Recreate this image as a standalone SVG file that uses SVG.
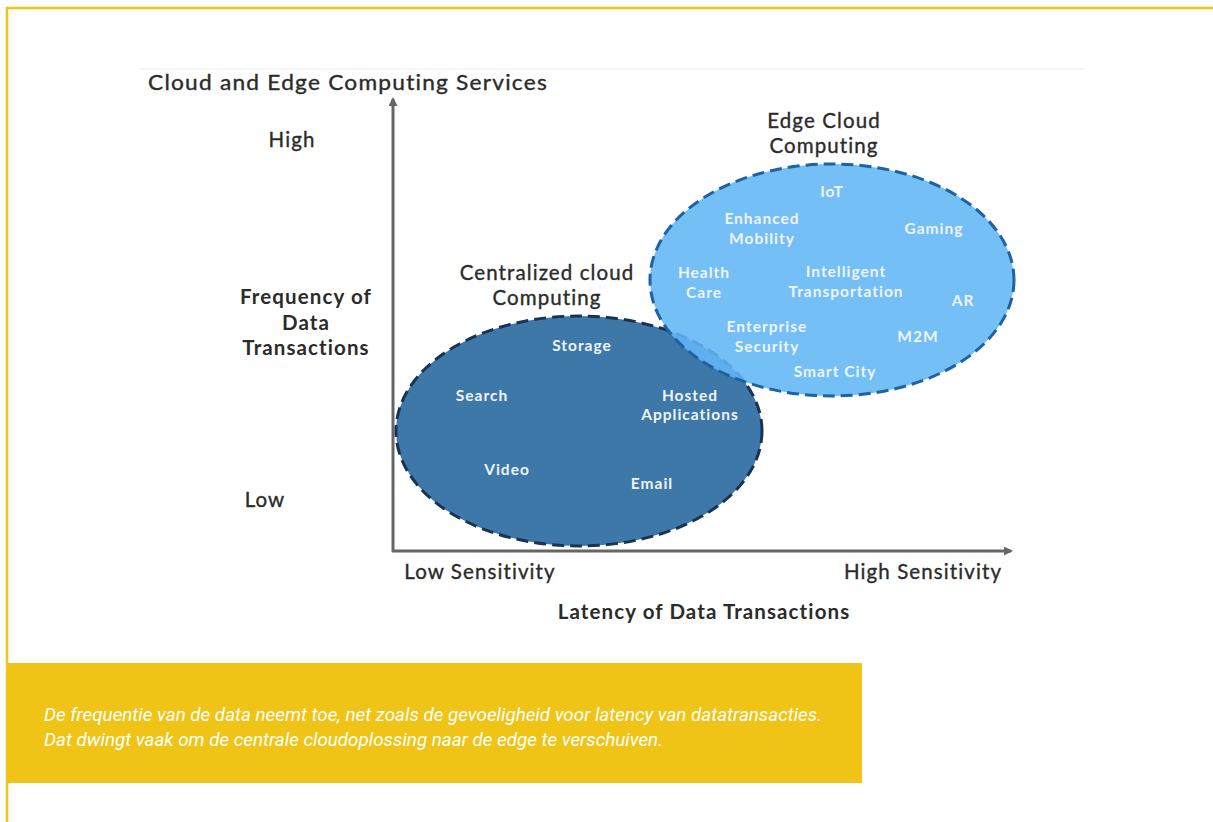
<svg xmlns="http://www.w3.org/2000/svg" width="1213" height="822" viewBox="0 0 1213 822">
<style>
.ax{stroke:#666;stroke-width:3;fill:none}
.lbl{font-family:Lato,"Open Sans","Liberation Sans",sans-serif;fill:#2b2b2b;stroke:#2b2b2b;stroke-width:0.35px;font-size:20.5px;letter-spacing:1.1px}
.b{font-weight:bold;stroke-width:0}
.in{font-family:Lato,"Open Sans","Liberation Sans",sans-serif;fill:#eef4fa;font-size:15.5px;font-weight:bold;letter-spacing:1px;text-anchor:middle}
.cap{font-family:Roboto,"Liberation Sans",sans-serif;font-style:italic;fill:#ffffff;font-size:17.5px}
</style>
<defs>
<marker id="ah" markerWidth="9" markerHeight="9" refX="7" refY="4.5" orient="auto" markerUnits="userSpaceOnUse" viewBox="0 0 9 9">
<path d="M0,0 L9,4.5 L0,9 Z" fill="#666"/>
</marker>
</defs>
<rect x="0" y="0" width="1213" height="822" fill="#ffffff"/>
<path d="M7,822 V8 H1213" stroke="#f2c318" stroke-width="2.5" fill="none"/>
<line x1="140" y1="69" x2="1085" y2="69" stroke="#f3f3f3" stroke-width="1.5"/>
<text class="lbl" x="148" y="90" font-size="22" letter-spacing="0" textLength="400" lengthAdjust="spacingAndGlyphs">Cloud and Edge Computing Services</text>
<g id="axes">
<line class="ax" x1="393" y1="552" x2="393" y2="99" marker-end="url(#ah)"/>
<line class="ax" x1="392" y1="551" x2="1011" y2="551" marker-end="url(#ah)"/>
</g>
<g id="ylabels">
<text class="lbl" x="292" y="147" text-anchor="middle">High</text>
<text class="lbl b" x="306" y="304" text-anchor="middle">Frequency of</text>
<text class="lbl b" x="306" y="330" text-anchor="middle">Data</text>
<text class="lbl b" x="306" y="355" text-anchor="middle">Transactions</text>
<text class="lbl" x="265" y="507" text-anchor="middle">Low</text>
</g>
<g id="xlabels">
<text class="lbl" x="480" y="579" text-anchor="middle">Low Sensitivity</text>
<text class="lbl" x="923" y="579" text-anchor="middle">High Sensitivity</text>
<text class="lbl b" x="704" y="619" text-anchor="middle">Latency of Data Transactions</text>
</g>
<g id="centralized">
<ellipse cx="579" cy="431" rx="183" ry="115" fill="#3e78a8" stroke="#1b3352" stroke-width="3" stroke-dasharray="12 6"/>
<text class="lbl" x="547" y="280" text-anchor="middle">Centralized cloud</text>
<text class="lbl" x="547" y="305" text-anchor="middle">Computing</text>
</g>
<g id="edge">
<ellipse cx="832" cy="280" rx="182" ry="116" fill="#62b6f6" fill-opacity="0.88" stroke="#1f62a3" stroke-width="3" stroke-dasharray="12 6"/>
<text class="lbl" x="824" y="128" text-anchor="middle">Edge Cloud</text>
<text class="lbl" x="824" y="153" text-anchor="middle">Computing</text>
</g>
<g id="central-items">
<text class="in" x="582" y="351">Storage</text>
<text class="in" x="482" y="401">Search</text>
<text class="in" x="690" y="401">Hosted</text>
<text class="in" x="690" y="420">Applications</text>
<text class="in" x="507" y="475">Video</text>
<text class="in" x="652" y="489">Email</text>
</g>
<g id="edge-items">
<text class="in" x="832" y="197">IoT</text>
<text class="in" x="762" y="224">Enhanced</text>
<text class="in" x="762" y="244">Mobility</text>
<text class="in" x="934" y="234">Gaming</text>
<text class="in" x="704" y="278">Health</text>
<text class="in" x="704" y="298">Care</text>
<text class="in" x="846" y="277">Intelligent</text>
<text class="in" x="846" y="297">Transportation</text>
<text class="in" x="963" y="306">AR</text>
<text class="in" x="767" y="332">Enterprise</text>
<text class="in" x="767" y="352">Security</text>
<text class="in" x="918" y="342">M2M</text>
<text class="in" x="835" y="377">Smart City</text>
</g>
<g id="caption">
<rect x="7" y="663" width="855" height="120" fill="#f0c416"/>
<text class="cap" x="44" y="721" textLength="778" lengthAdjust="spacingAndGlyphs">De frequentie van de data neemt toe, net zoals de gevoeligheid voor latency van datatransacties.</text>
<text class="cap" x="44" y="746" textLength="619" lengthAdjust="spacingAndGlyphs">Dat dwingt vaak om de centrale cloudoplossing naar de edge te verschuiven.</text>
</g>
</svg>
